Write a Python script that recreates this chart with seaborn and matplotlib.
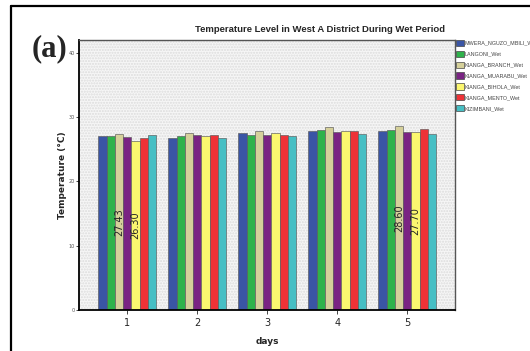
import matplotlib
matplotlib.use("Agg")
import matplotlib.pyplot as plt
from matplotlib.patches import Rectangle
from matplotlib.lines import Line2D
import seaborn as sns
import pandas as pd

# Daily mean temperatures (°C) per station, wet period
days = ["1", "2", "3", "4", "5"]
stations = ["MWERA_NGUZO_MBILI_Wet", "LANGONI_Wet", "KIANGA_BRANCH_Wet",
            "KIANGA_MUARABU_Wet", "KIANGA_BIHOLA_Wet", "KIANGA_MENTO_Wet",
            "KIZIMBANI_Wet"]
mwera = [27.10, 26.80, 27.60, 27.90, 27.90]
langoni = [27.10, 27.00, 27.25, 28.00, 28.00]
branch = [27.43, 27.60, 27.80, 28.45, 28.60]
muarabu = [26.90, 27.20, 27.30, 27.70, 27.70]
bihola = [26.30, 27.10, 27.50, 27.80, 27.70]
mento = [26.70, 27.20, 27.25, 27.85, 28.20]
kizimbani = [27.20, 26.80, 27.10, 27.40, 27.35]
series = [mwera, langoni, branch, muarabu, bihola, mento, kizimbani]
palette = ["#3a55a5", "#2eb24b", "#d5d09a", "#7a2483", "#fbf66f",
           "#ee3237", "#46bfc4"]

rows = []
for name, vals in zip(stations, series):
    for d, v in zip(days, vals):
        rows.append({"days": d, "station": name, "temp": v})
df = pd.DataFrame(rows)

sns.set_style("white")
fig = plt.figure(figsize=(5.30, 3.51), dpi=100)
ax = fig.add_axes([0.149, 0.1168, 0.7094, 0.769])

# dotted plot-area background
ax.set_facecolor("#f6f6f6")
ax.add_patch(Rectangle((0, 0), 1, 1, transform=ax.transAxes, facecolor="none",
                       edgecolor="#dcdcdc", hatch="......", linewidth=0,
                       zorder=0))

sns.barplot(data=df, x="days", y="temp", hue="station", palette=palette,
            width=0.83, edgecolor="#5a5a5a", linewidth=0.45, saturation=1,
            ax=ax, legend=False, zorder=2)

ax.set_xlim(-0.69, 4.68)
ax.set_ylim(0, 42)
ax.set_yticks([0, 10, 20, 30, 40])
ax.tick_params(axis="y", labelsize=3.5, length=2, width=0.6, pad=1,
               labelcolor="#555555", left=True)
ax.tick_params(axis="x", labelsize=7, length=3, width=0.6, pad=3, bottom=True)

for side in ("left", "bottom"):
    ax.spines[side].set_color("black")
    ax.spines[side].set_linewidth(1.3)
for side in ("top", "right"):
    ax.spines[side].set_visible(True)
    ax.spines[side].set_color("#555555")
    ax.spines[side].set_linewidth(1.0)

ax.set_xlabel("days", fontsize=6.5, fontweight="bold", labelpad=6)
ax.set_ylabel("Temperature (°C)", fontsize=6.5, fontweight="bold", labelpad=1)

fig.text(320 / 530, 1 - 30 / 351,
         "Temperature Level in West A District During Wet Period",
         fontsize=6.8, fontweight="bold", family="Liberation Sans",
         ha="center", va="center")

# value labels on selected bars
labelled = [(2, 0), (4, 0), (2, 4), (4, 4)]
containers = ax.containers
for si, di in labelled:
    bar = containers[si][di]
    v = series[si][di]
    ax.text(bar.get_x() + bar.get_width() / 2, v / 2, f"{v:.2f}",
            rotation=90, ha="center", va="center", fontsize=7, zorder=5)

handles = [Rectangle((0, 0), 1, 1, facecolor=c, edgecolor="#444444",
                     linewidth=0.5) for c in palette]
leg = ax.legend(handles, stations, loc="upper left",
                bbox_to_anchor=(1.0, 1.005), frameon=False,
                prop={"family": "Liberation Sans", "size": 3.9},
                handlelength=1.4, handleheight=1.4, handletextpad=0.2,
                labelspacing=0.85, borderaxespad=0.1, borderpad=0.1)
for t in leg.get_texts():
    t.set_color("#444444")

fig.text(0.060, 0.86, "(a)", fontsize=22, fontweight="bold",
         family="Liberation Serif", ha="left", va="center")

# outer frame (left and top edges)
fig.add_artist(Line2D([11 / 530, 11 / 530], [0, 1 - 6 / 351],
                      color="black", linewidth=1.6))
fig.add_artist(Line2D([11 / 530, 1], [1 - 6 / 351, 1 - 6 / 351],
                      color="black", linewidth=1.6))

fig.savefig("out.png", dpi=100)
